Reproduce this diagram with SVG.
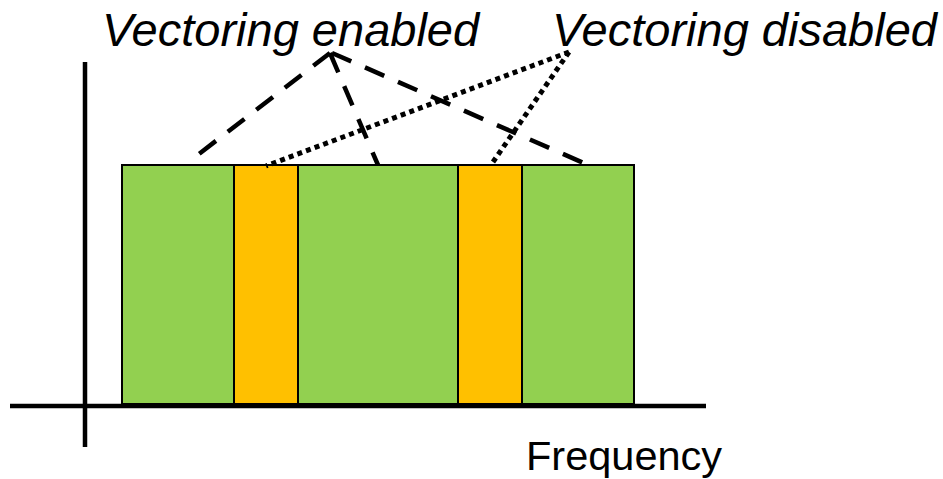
<svg xmlns="http://www.w3.org/2000/svg" width="943" height="479" viewBox="0 0 943 479">
  <style>
    .label { font-family: "Liberation Sans", Arial, sans-serif; fill: #000; }
    .title { font-size: 47px; font-style: italic; }
    .axis-label { font-size: 41.5px; }
    .band { stroke: #000; stroke-width: 2; }
    .green { fill: #92D050; }
    .orange { fill: #FFC000; }
    .axis { stroke: #000; stroke-width: 4.5; fill: none; }
    .dashed { stroke: #000; stroke-width: 4.5; fill: none; stroke-dasharray: 21 15; }
    .dotted { stroke: #000; stroke-width: 5; fill: none; stroke-dasharray: 5 4.2; }
  </style>

  <!-- frequency bands -->
  <g id="band-1"><rect class="band green" x="122" y="165" width="112" height="239"/></g>
  <g id="band-2"><rect class="band orange" x="234" y="165" width="64" height="239"/></g>
  <g id="band-3"><rect class="band green" x="298" y="165" width="160" height="239"/></g>
  <g id="band-4"><rect class="band orange" x="458" y="165" width="64" height="239"/></g>
  <g id="band-5"><rect class="band green" x="522" y="165" width="112" height="239"/></g>

  <!-- axes -->
  <g id="axes">
    <line class="axis" x1="10" y1="406" x2="706" y2="406"/>
    <line class="axis" x1="85" y1="62" x2="85" y2="447"/>
  </g>

  <!-- labels -->
  <g id="label-enabled"><text class="label title" x="102" y="45.5">Vectoring enabled</text></g>
  <g id="label-disabled"><text class="label title" x="552" y="45.5">Vectoring disabled</text></g>
  <g id="label-frequency"><text class="label axis-label" x="526" y="470">Frequency</text></g>

  <!-- callout lines -->
  <g id="connectors">
    <line class="dashed" x1="330" y1="53" x2="195" y2="157"/>
    <line class="dashed" x1="330" y1="53" x2="378" y2="165"/>
    <line class="dashed" x1="332" y1="53" x2="586" y2="164"/>
    <line class="dotted" x1="569" y1="52" x2="266" y2="166"/>
    <line class="dotted" x1="569" y1="52" x2="493" y2="162"/>
  </g>
</svg>
